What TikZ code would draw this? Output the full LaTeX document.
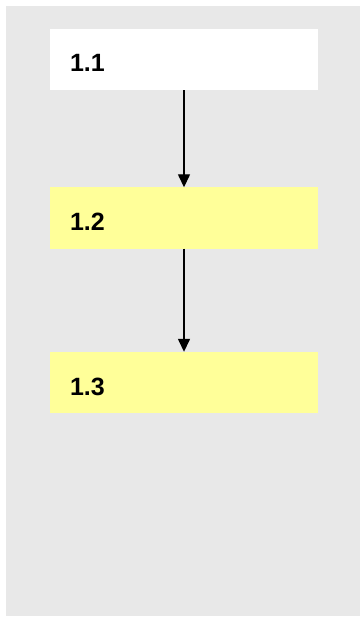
\documentclass[tikz,border=0pt]{standalone}
\usepackage{fontspec}
\setmainfont{Liberation Sans}
\usetikzlibrary{arrows.meta}

\definecolor{panelgray}{HTML}{E8E8E8}
\definecolor{stepyellow}{HTML}{FFFF99}

\tikzset{
  stepbox/.style={rectangle,minimum width=268pt,minimum height=61pt,
    inner xsep=20pt,text width=228pt,align=left,
    text height=25pt,text depth=0pt,
    font=\fontsize{25}{30}\selectfont\bfseries},
  stepwhite/.style={stepbox,fill=white},
  stepfilled/.style={stepbox,fill=stepyellow},
  flowarrow/.style={draw,line width=1.4pt,-{Triangle[length=13pt,width=12pt]}}
}

\begin{document}
\begin{tikzpicture}[x=1pt,y=-1pt]

        \useasboundingbox (0,0) rectangle (360,617);
        \fill[panelgray] (6,6) rectangle (360,616);

        \node[stepwhite]  (s11) at (184,59.5)  {1.1};
        \node[stepfilled] (s12) at (184,218)   {1.2};
        \node[stepfilled] (s13) at (184,382.5) {1.3};

        \path[flowarrow] (s11) -- (s12);
        \path[flowarrow] (s12) -- (s13);

      \end{tikzpicture}
\end{document}
